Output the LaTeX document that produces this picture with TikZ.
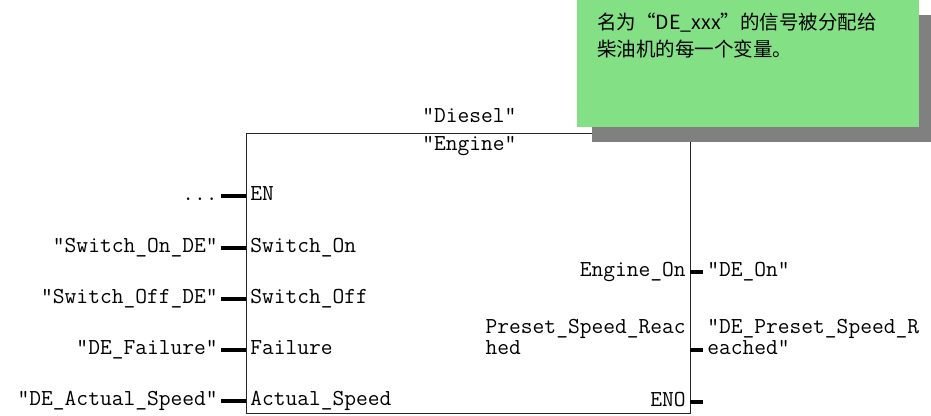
\documentclass[tikz,border=0pt]{standalone}
\usepackage{fontspec}
\usepackage{tikz}
\usetikzlibrary{positioning,calc}
\usepackage{xcolor}
\newfontfamily\cjkfont{Noto Sans CJK SC}
\definecolor{notegreen}{RGB}{132,224,132}
\definecolor{shadowgray}{RGB}{128,128,128}

\begin{document}
\begin{tikzpicture}[
    x=0.02cm, y=-0.02cm,
    fbbox/.style={draw=black!85, line width=0.7pt, anchor=north west, minimum width=8.88cm, minimum height=5.6cm},
    code/.style={font=\fontsize{13pt}{11.4pt}\selectfont\ttfamily, inner sep=0pt},
    pinname/.style={code, text height=0.22cm, text depth=0.06cm, inner xsep=0.08cm},
    pinlabel/.style={code, text height=0.22cm, text depth=0.06cm, inner xsep=0.06cm},
    pin/.style={line width=2pt},
    notetext/.style={font=\cjkfont\fontsize{11.1pt}{15.4pt}\selectfont, inner sep=0pt, align=left},
  ]
  \useasboundingbox[fill=white] (0,0) rectangle (931,416);

  % Function block
  \node[fbbox] (fb) at (246,133) {};
  \node[code, anchor=base west] (instName) at (422,122) {"Diesel"};
  \node[code, anchor=base west] (fbName) at (422,150) {"Engine"};

  % Inputs
  \node[pinname, anchor=west] (pinEN) at (246,196) {EN};
  \node[pinname, anchor=west] (pinSwOn) at (246,248) {Switch\_On};
  \node[pinname, anchor=west] (pinSwOff) at (246,299) {Switch\_Off};
  \node[pinname, anchor=west] (pinFail) at (246,350) {Failure};
  \node[pinname, anchor=west] (pinSpeed) at (246,401) {Actual\_Speed};

  \node[pinlabel, anchor=east] (lblEN) at (221,196) {...};
  \node[pinlabel, anchor=east] (lblSwOn) at (221,248) {"Switch\_On\_DE"};
  \node[pinlabel, anchor=east] (lblSwOff) at (221,299) {"Switch\_Off\_DE"};
  \node[pinlabel, anchor=east] (lblFail) at (221,350) {"DE\_Failure"};
  \node[pinlabel, anchor=east] (lblSpeed) at (221,401) {"DE\_Actual\_Speed"};

  \draw[pin] (lblEN.east) -- (pinEN.west);
  \draw[pin] (lblSwOn.east) -- (pinSwOn.west);
  \draw[pin] (lblSwOff.east) -- (pinSwOff.west);
  \draw[pin] (lblFail.east) -- (pinFail.west);
  \draw[pin] (lblSpeed.east) -- (pinSpeed.west);

  % Outputs
  \node[pinname, anchor=east] (pinEngOn) at (690,272) {Engine\_On};
  \node[code, anchor=base east, align=left, inner xsep=0.08cm] (pinPreset) at (690,354) {Preset\_Speed\_Reac\\hed};
  \node[pinname, anchor=east] (pinENO) at (690,402) {ENO};

  \node[pinname, anchor=west] (lblEngOn) at (703,272) {"DE\_On"};
  \node[code, anchor=base west, align=left, inner xsep=0.08cm] (lblPreset) at (703,354) {"DE\_Preset\_Speed\_R\\eached"};
  \coordinate (rowPreset) at (0,350);
  \coordinate (outENO) at (703,402);

  \draw[pin] (pinEngOn.east) -- (lblEngOn.west);
  \draw[pin] (pinPreset.east |- rowPreset) -- (lblPreset.west |- rowPreset);
  \draw[pin] (pinENO.east) -- (outENO);

  % Comment note
  \fill[shadowgray] (592,15) rectangle (931,142);
  \node[fill=notegreen, anchor=north west, minimum width=6.84cm, minimum height=2.54cm, inner sep=0pt] (note) at (577,0) {};
  \node[notetext, anchor=north west] (noteTxt) at (597,13) {名为“DE\_xxx”的信号被分配给\\柴油机的每一个变量。};
\end{tikzpicture}
\end{document}
